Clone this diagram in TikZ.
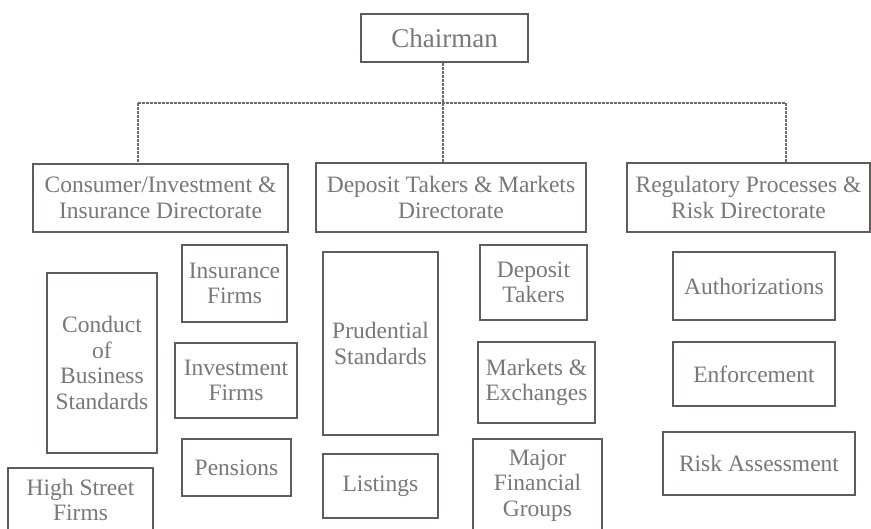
\documentclass[tikz,border=0pt]{standalone}
\usepackage{fontspec}
\setmainfont{Liberation Serif}
\definecolor{boxc}{RGB}{100,90,90}
\definecolor{linec}{RGB}{115,105,105}
\definecolor{txtc}{RGB}{125,118,118}
\begin{document}
\begin{tikzpicture}[x=1pt,y=-1pt,
  orgbox/.style={draw=boxc,line width=2pt,inner sep=0pt,align=center,text=txtc,
    font=\fontsize{23.5}{25.5}\selectfont},
  conn/.style={draw=linec,line width=2.5pt,dash pattern=on 3pt off 1pt}]
\useasboundingbox (0,0) rectangle (871,529);
\clip (0,0) rectangle (871,529);
\fill[white] (0,0) rectangle (871,529);
% top
\node[orgbox,minimum width=167pt,minimum height=48pt,font=\fontsize{27}{30}\selectfont] (chair) at (444.5,38) {Chairman};
% directorates
\node[orgbox,minimum width=255pt,minimum height=68pt] (dir1) at (160.5,198) {Consumer/Investment \&\\Insurance Directorate};
\node[orgbox,minimum width=270pt,minimum height=69pt] (dir2) at (451,197.5) {Deposit Takers \& Markets\\Directorate};
\node[orgbox,minimum width=243pt,minimum height=69pt] (dir3) at (748.5,197.5) {Regulatory Processes \&\\Risk Directorate};
% left column
\node[orgbox,minimum width=105pt,minimum height=77pt] (insf) at (234.5,283.5) {Insurance\\Firms};
\node[orgbox,minimum width=110pt,minimum height=180pt] (cobs) at (102,363) {Conduct\\of\\Business\\Standards};
\node[orgbox,minimum width=122pt,minimum height=75pt] (invf) at (236,380.5) {Investment\\Firms};
\node[orgbox,minimum width=109pt,minimum height=57pt] (pens) at (236.5,467.5) {Pensions};
\node[orgbox,minimum width=145pt,minimum height=64pt] (hsf) at (80.5,500) {High Street\\Firms};
% middle column
\node[orgbox,minimum width=115pt,minimum height=183pt] (prud) at (380.5,343.5) {Prudential\\Standards};
\node[orgbox,minimum width=107pt,minimum height=75pt] (dept) at (533.5,282.5) {Deposit\\Takers};
\node[orgbox,minimum width=117pt,minimum height=81pt] (mkts) at (536.5,382.5) {Markets \&\\Exchanges};
\node[orgbox,minimum width=115pt,minimum height=64pt] (list) at (380.5,486) {Listings};
\node[orgbox,minimum width=129pt,minimum height=93pt] (mfg) at (537.5,485.5) {Major\\Financial\\Groups};
% right column
\node[orgbox,minimum width=162pt,minimum height=68pt] (auth) at (754,286) {Authorizations};
\node[orgbox,minimum width=162pt,minimum height=64pt] (enf) at (754,374) {Enforcement};
\node[orgbox,minimum width=192pt,minimum height=63pt] (risk) at (759,463.5) {Risk Assessment};
% connectors
\coordinate (hl) at (138,103);
\coordinate (hm) at (443,103);
\coordinate (hr) at (786,103);
\draw[conn] (chair.south -| hm) -- (hm);
\draw[conn] (hl) -- (hr);
\draw[conn] (hl) -- (hl |- dir1.north);
\draw[conn] (hm) -- (hm |- dir2.north);
\draw[conn] (hr) -- (hr |- dir3.north);
\end{tikzpicture}
\end{document}
